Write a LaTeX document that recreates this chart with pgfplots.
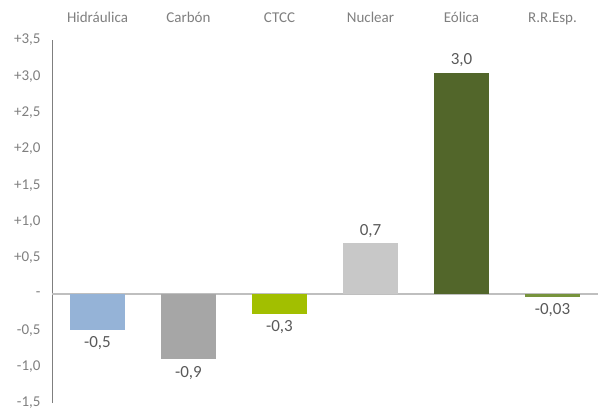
\documentclass[border=0pt]{standalone}
\usepackage{pgfplots}
\pgfplotsset{compat=1.18}
\usepackage{fontspec}
\setmainfont{Carlito}
\definecolor{hid}{HTML}{95B3D7}
\definecolor{car}{HTML}{A6A6A6}
\definecolor{ctc}{HTML}{A2BF00}
\definecolor{nuc}{HTML}{C8C8C8}
\definecolor{eol}{HTML}{52662A}
\definecolor{rre}{HTML}{77933C}
\definecolor{tick}{HTML}{7F7F7F}
\definecolor{lbl}{HTML}{595959}
\definecolor{zl}{HTML}{BFBFBF}
\begin{document}
\begin{tikzpicture}
\begin{axis}[
  scale only axis, width=546pt, height=363pt,
  xmin=-0.5, xmax=5.5, ymin=-1.5, ymax=3.5,
  ybar, bar width=55pt, bar shift=0pt,
  axis x line*=top, axis y line*=left,
  x axis line style={draw=none},
  y axis line style={-, draw=tick, line width=0.8pt},
  xtick={0,1,2,3,4,5},
  xticklabels={Hidráulica, Carbón, CTCC, Nuclear, Eólica, R.R.Esp.},
  xtick style={draw=none}, ytick style={draw=none},
  xticklabel style={font=\fontsize{15}{15}\selectfont, text=tick, anchor=base, yshift=13pt},
  ytick={-1.5,-1,-0.5,0,0.5,1,1.5,2,2.5,3,3.5},
  yticklabels={{-1,5},{-1,0},{-0,5},{-},{+0,5},{+1,0},{+1,5},{+2,0},{+2,5},{+3,0},{+3,5}},
  yticklabel style={font=\fontsize{15}{15}\selectfont, text=tick, xshift=-8pt},
  clip=false,
  nodes near coords style={font=\fontsize{17}{17}\selectfont, text=lbl},
]
\draw[zl, line width=1.5pt] (axis cs:-0.5,0) -- (axis cs:5.5,0);
\addplot[fill=hid, draw=none, nodes near coords={-0,5}, nodes near coords style={anchor=north, yshift=-3pt}] coordinates {(0,-0.5)};
\addplot[fill=car, draw=none, nodes near coords={-0,9}, nodes near coords style={anchor=north, yshift=-3pt}] coordinates {(1,-0.9)};
\addplot[fill=ctc, draw=none, nodes near coords={-0,3}, nodes near coords style={anchor=north, yshift=-3pt}] coordinates {(2,-0.27)};
\addplot[fill=nuc, draw=none, nodes near coords={0,7}, nodes near coords style={anchor=south, yshift=2pt}] coordinates {(3,0.70)};
\addplot[fill=eol, draw=none, nodes near coords={3,0}, nodes near coords style={anchor=south, yshift=2pt}] coordinates {(4,3.05)};
\addplot[fill=rre, draw=none, nodes near coords={-0,03}, nodes near coords style={anchor=north, yshift=-3pt}] coordinates {(5,-0.035)};
\end{axis}
\pgfresetboundingbox
\path (current axis.south west) ++(-52pt,-5pt) rectangle ++(598pt,408pt);
\end{tikzpicture}
\end{document}
